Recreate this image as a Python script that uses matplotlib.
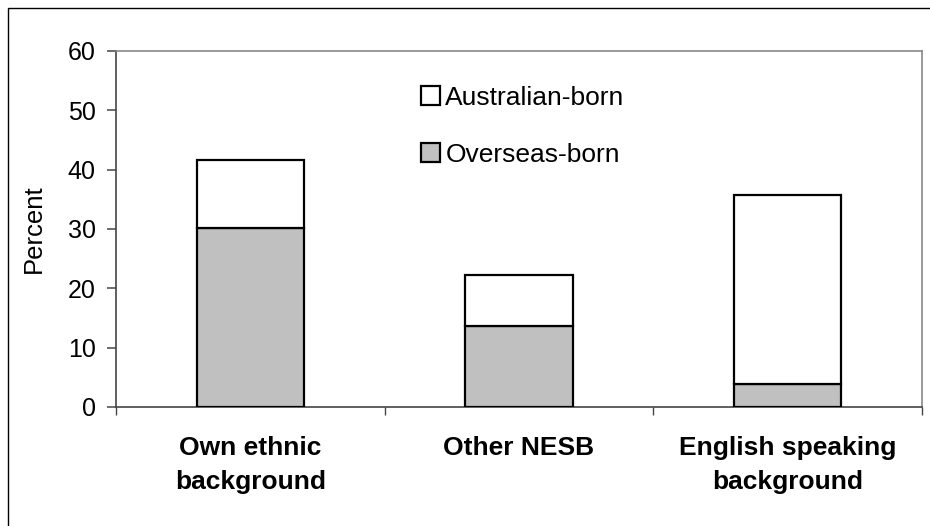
import matplotlib
matplotlib.use("Agg")
import matplotlib.pyplot as plt
from matplotlib.patches import Rectangle

categories = ["Own ethnic\nbackground", "Other NESB", "English speaking\nbackground"]
overseas_born = [30.1, 13.7, 3.8]
australian_born = [11.6, 8.6, 32.0]
series_names = ["Australian-born", "Overseas-born"]
y_ticks = [0, 10, 20, 30, 40, 50, 60]

plt.rcParams['font.family'] = ['Liberation Sans', 'DejaVu Sans']

W, H = 930, 526
fig = plt.figure(figsize=(W / 100, H / 100), dpi=100)
fig.patch.set_facecolor('white')

# outer chart frame (left and top visible)
fig.add_artist(Rectangle((8 / W, -0.05), 1.1, 1 - 8 / H + 0.05, transform=fig.transFigure,
                         fill=False, edgecolor='black', linewidth=1.0))

L, R, T, B = 116, 922, 51, 407
ax = fig.add_axes([L / W, 1 - B / H, (R - L) / W, (B - T) / H])

x = list(range(len(categories)))
bw = 0.4
b1 = ax.bar(x, overseas_born, width=bw, color='#c0c0c0', edgecolor='black', linewidth=1.6,
            label=series_names[1], zorder=3)
b2 = ax.bar(x, australian_born, width=bw, bottom=overseas_born, color='white',
            edgecolor='black', linewidth=1.6, label=series_names[0], zorder=3)

ax.set_xlim(-0.5, 2.5)
ax.set_ylim(0, 60)
ax.set_yticks(y_ticks)
ax.set_yticklabels([str(v) for v in y_ticks], fontsize=18)
ax.set_xticks(x)
ax.set_xticklabels(categories, fontsize=19, fontweight='bold', linespacing=1.5)
ax.set_xticks([-0.5, 0.5, 1.5, 2.5], minor=True)
ax.tick_params(axis='x', which='major', length=0, pad=21)
ax.tick_params(axis='x', which='minor', length=6, direction='out', color='#444444', width=1)
ax.tick_params(axis='y', length=6.5, direction='out', color='#555555', width=1.2, pad=8)

for s in ax.spines.values():
    s.set_color('#888888')
    s.set_linewidth(1.2)
ax.spines['left'].set_color('#444444')
ax.spines['bottom'].set_color('#444444')

ax.set_ylabel("Percent", fontsize=18.5)
ax.yaxis.set_label_coords(34 / W, 1 - 229 / H, transform=fig.transFigure)
ax.yaxis.label.set_verticalalignment('center')

leg = ax.legend(handles=[b2, b1], labels=series_names, loc='upper left',
                bbox_to_anchor=(421 / W, 1 - 86 / H), bbox_transform=fig.transFigure,
                frameon=False, fontsize=19, handlelength=0.72, handleheight=0.72,
                handletextpad=0.2, labelspacing=1.25, borderpad=0, borderaxespad=0)

fig.savefig("out.png", dpi=100, facecolor='white')
